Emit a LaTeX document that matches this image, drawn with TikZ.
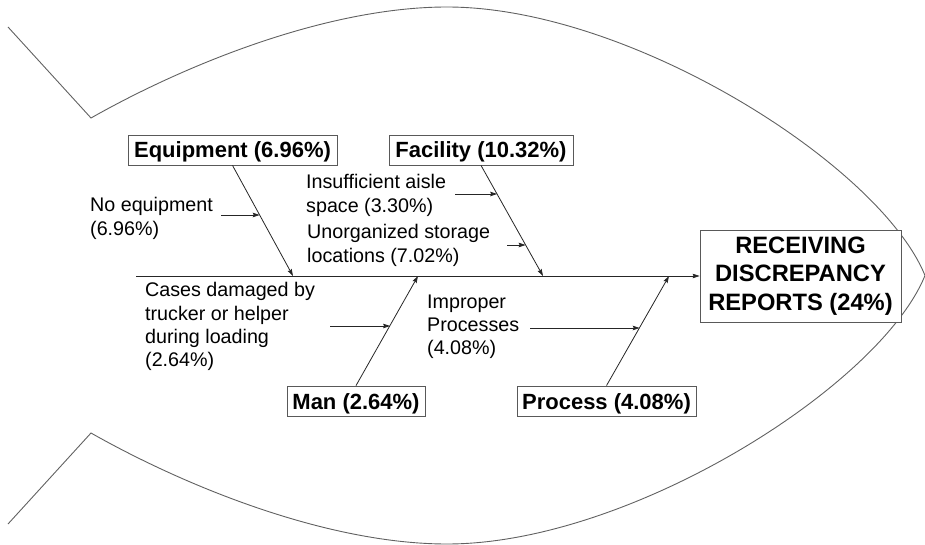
\documentclass[tikz,border=0pt]{standalone}
\usepackage{fontspec}
\setmainfont{Liberation Sans}
\usetikzlibrary{arrows.meta,calc}

\begin{document}
\begin{tikzpicture}[x=1pt,y=-1pt,
  outline/.style={draw=black!62, line width=0.9pt, line join=miter},
  tip/.style={-{Stealth[length=7pt,width=4.5pt,inset=1pt]}},
  bone/.style={draw=black!85, line width=0.8pt, tip},
  twig/.style={draw=black!85, line width=0.8pt, tip},
  catbox/.style={draw=black!65, line width=0.8pt, fill=white, inner sep=0pt,
    font=\bfseries\fontsize{22}{26}\selectfont, text height=16pt, text depth=0pt,
    minimum height=30pt},
  cause/.style={anchor=north west, inner sep=0pt, align=left,
    font=\fontsize{19.7}{23.3}\selectfont},
  headbox/.style={draw=black!65, line width=0.8pt, fill=white, inner sep=0pt,
    align=center, minimum width=201pt, minimum height=92pt,
    font=\bfseries\fontsize{23.7}{28.3}\selectfont}
]
\useasboundingbox (0,0) rectangle (925,545);

% fish body and tail
\draw[outline] (8,27) -- (91,118)
  .. controls (190,62) and (330,7) .. (447,7)
  .. controls (630,7) and (880,165) .. (925,275.5)
  .. controls (880,386) and (630,544) .. (447,544)
  .. controls (330,544) and (190,489) .. (91,433)
  -- (8,524);

% head
\node[headbox] (head) at (800.5,276) {RECEIVING\\DISCREPANCY\\REPORTS (24\%)};

% spine
\coordinate (spineL) at (136,276);
\draw[bone] (spineL) -- (head.west);

% category boxes
\node[catbox, minimum width=209pt] (equip) at (232.5,150) {Equipment (6.96\%)};
\node[catbox, minimum width=184pt] (facil) at (481,150) {Facility (10.32\%)};
\node[catbox, minimum width=138pt] (man) at (356,401) {Man (2.64\%)};
\node[catbox, minimum width=179pt] (proc) at (606.5,401) {Process (4.08\%)};

% bone ends on the spine
\coordinate (equipEnd) at (293,276);
\coordinate (facilEnd) at (543,276);
\coordinate (manEnd) at (418,276);
\coordinate (procEnd) at (669,276);

\draw[bone] (equip.south) -- (equipEnd);
\draw[bone] (facil.south) -- (facilEnd);
\draw[bone] (man.north) -- (manEnd);
\draw[bone] (proc.north) -- (procEnd);

% causes
\node[cause] (noeq) at (90,197.5) {No equipment\\(6.96\%)};
\node[cause] (insuf) at (306,174.5) {Insufficient aisle\\space (3.30\%)};
\node[cause] (unorg) at (307,224.5) {Unorganized storage\\locations (7.02\%)};
\node[cause] (cases) at (145,282.5) {Cases damaged by\\trucker or helper\\during loading\\(2.64\%)};
\node[cause] (improp) at (427,294.5) {Improper\\Processes\\(4.08\%)};

\coordinate (noeqA) at (221,215);
\coordinate (noeqB) at ($(equip.south)!0.45!(equipEnd)$);
\coordinate (insufA) at (455,194);
\coordinate (insufB) at ($(facil.south)!0.261!(facilEnd)$);
\coordinate (unorgA) at (507,245);
\coordinate (unorgB) at ($(facil.south)!0.72!(facilEnd)$);
\coordinate (casesA) at (330,326);
\coordinate (casesB) at ($(man.north)!0.55!(manEnd)$);
\coordinate (impropA) at (530,328);
\coordinate (impropB) at ($(proc.north)!0.532!(procEnd)$);

\draw[twig] (noeqA) -- (noeqA -| noeqB);
\draw[twig] (insufA) -- (insufA -| insufB);
\draw[twig] (unorgA) -- (unorgA -| unorgB);
\draw[twig] (casesA) -- (casesA -| casesB);
\draw[twig] (impropA) -- (impropA -| impropB);
\end{tikzpicture}
\end{document}
